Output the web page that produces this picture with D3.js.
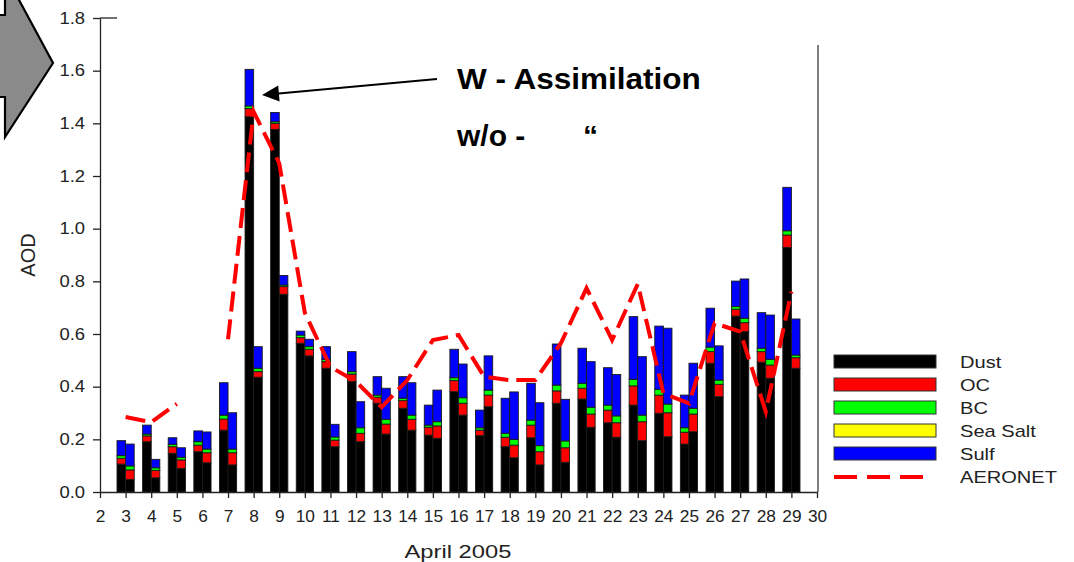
<!DOCTYPE html>
<html>
<head>
<meta charset="utf-8">
<script src="https://cdn.jsdelivr.net/npm/d3@7"></script>
<style>
  body { margin: 0; background: #fff; }
  svg { display: block; }
  text { font-family: "Liberation Sans", Arial, sans-serif; }
</style>
</head>
<body>
<svg id="chart" width="1074" height="562"></svg>
<script>
// Days of April 2005 with model output
const days = [3, 4, 5, 6, 7, 8, 9, 10, 11, 12, 13, 14, 15, 16, 17, 18, 19, 20, 21, 22, 23, 24, 25, 26, 27, 28, 29];
const xTicks = [2, 3, 4, 5, 6, 7, 8, 9, 10, 11, 12, 13, 14, 15, 16, 17, 18, 19, 20, 21, 22, 23, 24, 25, 26, 27, 28, 29, 30];
const yTicks = [0.0, 0.2, 0.4, 0.6, 0.8, 1.0, 1.2, 1.4, 1.6, 1.8];

const components = ["Dust", "OC", "BC", "Sea Salt", "Sulf"];
const componentColors = ["#000000", "#ff0000", "#00ff00", "#ffff00", "#0000ff"];
const runs = ["with", "without"];

// Run with assimilation (left bar of each day)
const withDust    = [0.106, 0.191, 0.147, 0.153, 0.235, 1.425, 1.377, 0.565, 0.470, 0.420, 0.337, 0.318, 0.216, 0.381, 0.214, 0.172, 0.206, 0.337, 0.353, 0.263, 0.330, 0.299, 0.182, 0.489, 0.668, 0.493, 0.929];
const withOC      = [0.022, 0.022, 0.025, 0.025, 0.042, 0.031, 0.023, 0.021, 0.025, 0.028, 0.023, 0.029, 0.030, 0.042, 0.021, 0.036, 0.048, 0.047, 0.041, 0.048, 0.073, 0.069, 0.045, 0.044, 0.026, 0.040, 0.047];
const withBC      = [0.010, 0.007, 0.009, 0.013, 0.015, 0.010, 0.006, 0.010, 0.008, 0.009, 0.008, 0.009, 0.008, 0.011, 0.009, 0.015, 0.019, 0.022, 0.019, 0.019, 0.025, 0.022, 0.017, 0.017, 0.010, 0.013, 0.016];
const withSeaSalt = [0, 0, 0, 0, 0, 0, 0, 0, 0, 0, 0, 0, 0, 0, 0, 0, 0, 0, 0, 0, 0, 0, 0, 0, 0, 0, 0];
const withSulf    = [0.057, 0.034, 0.025, 0.041, 0.123, 0.139, 0.035, 0.015, 0.049, 0.076, 0.070, 0.082, 0.076, 0.108, 0.067, 0.133, 0.140, 0.156, 0.133, 0.142, 0.238, 0.240, 0.124, 0.148, 0.097, 0.135, 0.165];

// Run without assimilation (right bar of each day)
const withoutDust    = [0.048, 0.054, 0.090, 0.111, 0.103, 0.436, 0.751, 0.517, 0.172, 0.191, 0.220, 0.235, 0.204, 0.292, 0.324, 0.130, 0.103, 0.113, 0.246, 0.208, 0.195, 0.210, 0.229, 0.362, 0.609, 0.432, 0.470];
const withoutOC      = [0.036, 0.028, 0.032, 0.038, 0.046, 0.021, 0.029, 0.025, 0.025, 0.032, 0.038, 0.041, 0.047, 0.045, 0.044, 0.048, 0.050, 0.055, 0.050, 0.055, 0.072, 0.091, 0.067, 0.047, 0.034, 0.050, 0.040];
const withoutBC      = [0.015, 0.010, 0.010, 0.014, 0.014, 0.013, 0.006, 0.010, 0.012, 0.021, 0.018, 0.016, 0.016, 0.021, 0.019, 0.022, 0.023, 0.026, 0.026, 0.026, 0.025, 0.033, 0.022, 0.016, 0.017, 0.022, 0.010];
const withoutSeaSalt = [0, 0, 0, 0, 0, 0, 0, 0, 0, 0, 0, 0, 0, 0, 0, 0, 0, 0, 0, 0, 0, 0, 0, 0, 0, 0, 0];
const withoutSulf    = [0.083, 0.032, 0.036, 0.065, 0.138, 0.082, 0.036, 0.028, 0.048, 0.099, 0.118, 0.123, 0.120, 0.128, 0.130, 0.180, 0.163, 0.158, 0.173, 0.157, 0.222, 0.288, 0.171, 0.130, 0.149, 0.168, 0.137];

// AERONET observed AOD (no measurement on day 6)
const aeronet = [0.285, 0.265, 0.335, null, 0.580, 1.444, 1.248, 0.680, 0.475, 0.419, 0.322, 0.425, 0.577, 0.596, 0.438, 0.425, 0.425, 0.565, 0.774, 0.577, 0.790, 0.375, 0.337, 0.641, 0.609, 0.305, 0.761];

const svg = d3.select("#chart");
const ink = "#222";

const x = d3.scaleLinear().domain([2, 30]).range([100, 817]);
const y = d3.scaleLinear().domain([0, 1.8]).range([492, 18]);
const sub = d3.scaleBand().domain(runs).range([-8.6, 8.6]).padding(0);
const color = d3.scaleOrdinal().domain(components).range(componentColors);

// stretch text horizontally by factor k
function widen(sel, k) {
  sel.each(function () {
    const w = this.getComputedTextLength();
    this.setAttribute("textLength", w * k);
    this.setAttribute("lengthAdjust", "spacingAndGlyphs");
  });
}

// Build stacked rows for each run
const runTables = {
  with: [withDust, withOC, withBC, withSeaSalt, withSulf],
  without: [withoutDust, withoutOC, withoutBC, withoutSeaSalt, withoutSulf]
};
const stack = d3.stack().keys(components);

const barLayer = svg.append("g");
runs.forEach(run => {
  const rows = days.map((d, i) => {
    const r = { day: d };
    components.forEach((c, j) => { r[c] = runTables[run][j][i]; });
    return r;
  });
  const series = stack(rows);
  series.forEach(s => {
    barLayer.append("g")
      .attr("fill", color(s.key))
      .selectAll("rect")
      .data(s.filter(p => p[1] - p[0] > 0))
      .join("rect")
      .attr("x", p => x(p.data.day) + sub(run))
      .attr("width", sub.bandwidth())
      .attr("y", p => y(p[1]))
      .attr("height", p => y(p[0]) - y(p[1]))
      .attr("stroke", "#1a1a1a")
      .attr("stroke-width", 0.9);
  });
});

// AERONET dashed line
const line = d3.line()
  .defined(d => d.v !== null)
  .x(d => x(d.day))
  .y(d => y(d.v));
svg.append("path")
  .datum(days.map((d, i) => ({ day: d, v: aeronet[i] })))
  .attr("d", line)
  .attr("fill", "none")
  .attr("stroke", "#ff0000")
  .attr("stroke-width", 4)
  .attr("stroke-dasharray", "20,8");

// Axes
const yAxisG = svg.append("g")
  .attr("transform", `translate(${x(2)},0)`)
  .call(d3.axisLeft(y).tickValues(yTicks).tickFormat(d3.format(".1f")).tickSize(7).tickPadding(8).tickSizeOuter(0));
const xAxisG = svg.append("g")
  .attr("transform", `translate(0,${y(0)})`)
  .call(d3.axisBottom(x).tickValues(xTicks).tickFormat(d3.format("d")).tickSize(6).tickPadding(13).tickSizeOuter(0));
[yAxisG, xAxisG].forEach(g => {
  g.selectAll("path, line").attr("stroke", ink).attr("stroke-width", 1.3);
  g.selectAll("text").attr("fill", ink).attr("font-size", 16).attr("font-family", "Liberation Sans, Arial, sans-serif");
});
widen(yAxisG.selectAll("text"), 1.15);
widen(xAxisG.selectAll("text"), 1.08);

// inner tick at the top of the value axis and the right-hand frame
svg.append("line").attr("x1", x(2)).attr("x2", x(2) + 17).attr("y1", y(1.8)).attr("y2", y(1.8))
  .attr("stroke", ink).attr("stroke-width", 1.3);
svg.append("line").attr("x1", x(30) + 1).attr("x2", x(30) + 1).attr("y1", 45).attr("y2", y(0))
  .attr("stroke", "#555").attr("stroke-width", 1.5);

// Axis titles
svg.append("text")
  .attr("transform", "translate(35,255) rotate(-90)")
  .attr("text-anchor", "middle")
  .attr("font-size", 20)
  .attr("fill", ink)
  .text("AOD");
svg.append("text")
  .attr("x", 458).attr("y", 558)
  .attr("text-anchor", "middle")
  .attr("font-size", 19)
  .attr("fill", ink)
  .text("April 2005")
  .call(widen, 1.25);

// Legend
const legend = svg.append("g").attr("transform", "translate(834,355)");
components.forEach((c, i) => {
  legend.append("rect")
    .attr("x", 0).attr("y", i * 23)
    .attr("width", 102).attr("height", 13)
    .attr("fill", color(c))
    .attr("stroke", "#333").attr("stroke-width", 1);
  legend.append("text")
    .attr("x", 126).attr("y", i * 23 + 13)
    .attr("font-size", 17).attr("fill", ink)
    .text(c)
    .call(widen, 1.18);
});
legend.append("line")
  .attr("x1", 0).attr("x2", 92).attr("y1", 5 * 23 + 7).attr("y2", 5 * 23 + 7)
  .attr("stroke", "#ff0000").attr("stroke-width", 4).attr("stroke-dasharray", "23,10");
legend.append("text")
  .attr("x", 126).attr("y", 5 * 23 + 13)
  .attr("font-size", 17).attr("fill", ink)
  .text("AERONET")
  .call(widen, 1.18);

// Grey block arrow at the upper left
svg.append("polygon")
  .attr("points", "-5,15 5,15 5,-26 53,63 5,137 5,97 -5,97")
  .attr("fill", "#8a8a8a")
  .attr("stroke", "#000").attr("stroke-width", 2.2).attr("stroke-linejoin", "miter");

// Annotation with pointer to the assimilated peak
svg.append("line")
  .attr("x1", 437).attr("y1", 79).attr("x2", 276).attr("y2", 93.7)
  .attr("stroke", "#000").attr("stroke-width", 2);
svg.append("polygon")
  .attr("points", "262,95 279.6,101.4 278.2,85.5")
  .attr("fill", "#000");
svg.append("text")
  .attr("x", 457).attr("y", 89)
  .attr("font-size", 30).attr("font-weight", "bold").attr("fill", "#000")
  .text("W - Assimilation")
  .call(widen, 1.05);
svg.append("text")
  .attr("x", 457).attr("y", 146)
  .attr("font-size", 30).attr("font-weight", "bold").attr("fill", "#000")
  .text("w/o -");
svg.append("text")
  .attr("x", 583).attr("y", 146)
  .attr("font-size", 30).attr("font-weight", "bold").attr("fill", "#000")
  .text("\u201C");
</script>
</body>
</html>
